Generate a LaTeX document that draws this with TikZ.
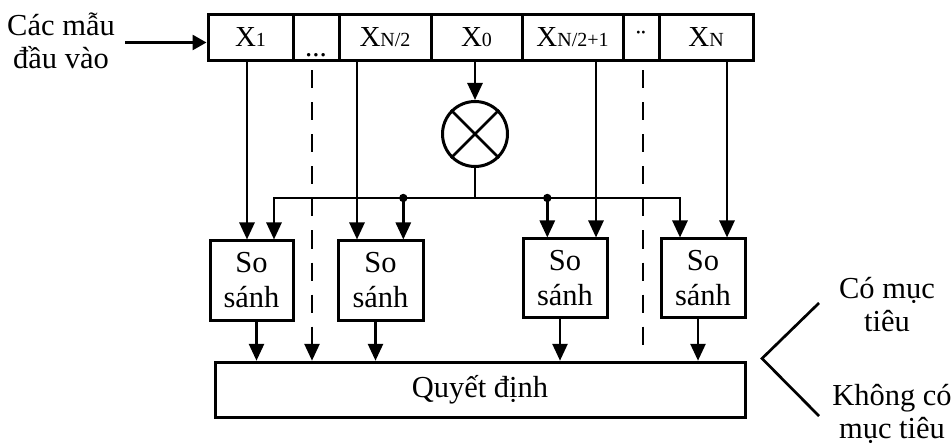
\documentclass[tikz,border=0pt]{standalone}
\usepackage{fontspec}
\setmainfont{Liberation Serif}
\usetikzlibrary{arrows.meta,calc}
\begin{document}
\begin{tikzpicture}[x=1pt,y=-1pt,
  ln/.style={line width=2.7pt},
  tip/.tip={Triangle[length=17pt,width=15pt]},
  arr/.style={ln,-tip},
  dsh/.style={ln,dash pattern=on 18pt off 14pt,dash phase=24pt},
  cell/.style={draw,line width=3pt,minimum height=46pt,inner sep=0pt,text height=18pt,text depth=0pt,font=\fontsize{29}{29}\selectfont},
  cmp/.style={draw,line width=3pt,inner sep=0pt,align=center,font=\fontsize{30.5}{35}\selectfont},
  txt/.style={align=center,inner sep=0pt,font=\fontsize{30.5}{33}\selectfont}]
\useasboundingbox (0,0) rectangle (952,446);
\newcommand{\sbs}[1]{{\fontsize{20}{20}\selectfont #1}}
% top register
\node[cell,minimum width=85pt]  (x1)  at (250.5,38) {X\sbs{1}};
\node[cell,minimum width=46pt]  (dt)  at (316,38)   {\smash{\raisebox{-10pt}{...}}};
\node[cell,minimum width=92pt]  (xh)  at (385,38)   {X\sbs{N/2}};
\node[cell,minimum width=91pt]  (x0)  at (476.5,38) {X\sbs{0}};
\node[cell,minimum width=101pt] (xh1) at (572.5,38) {X\sbs{N/2+1}};
\node[cell,minimum width=36pt]  (dd)  at (641,38)   {\smash{\raisebox{-3pt}{¨}}};
\node[cell,minimum width=94pt]  (xn)  at (706,38)   {X\sbs{N}};
% input
\node[txt] (inp) at (61,41) {Các mẫu\\đầu vào};
\coordinate (inA) at (125,42.5);
\draw[ln,-{Triangle[length=14pt,width=15pt]}] (inA) -- (inA -| x1.west);
% multiplier
\node[circle,draw,line width=3pt,minimum size=65pt,inner sep=0pt] (m) at (475,134) {};
\draw[ln] (m.north west) -- (m.south east) (m.north east) -- (m.south west);
\draw[arr] (x0.south -| m.north) -- (m.north);
% comparators
\node[cmp,minimum width=83pt,minimum height=79pt] (c1) at (251.5,280.5) {So\\sánh};
\node[cmp,minimum width=85pt,minimum height=79pt] (c2) at (380.5,280.5) {So\\sánh};
\node[cmp,minimum width=84pt,minimum height=78pt] (c3) at (565,278) {So\\sánh};
\node[cmp,minimum width=84pt,minimum height=78pt] (c4) at (703,278) {So\\sánh};
% decision
\node[draw,line width=3pt,minimum width=530pt,minimum height=55pt,inner sep=0pt,font=\fontsize{30.5}{30}\selectfont] (q) at (480,389.75) {Quyết định};
% bus
\coordinate (bus) at (475,198);
\coordinate (bl) at (274,198);
\coordinate (br) at (680,198);
\coordinate (d1) at (403.3,198);
\coordinate (d2) at (547.3,198);
\draw[ln] (m.south) -- (bus);
\draw[ln,tip-tip] (bl |- c1.north) -- (bl) -- (br) -- (br |- c4.north);
\fill (d1) circle (4.2pt) (d2) circle (4.2pt);
\draw[arr] (d1) -- (d1 |- c2.north);
\draw[arr] (d2) -- (d2 |- c3.north);
% data lines
\draw[arr] (x1.south -| 247,0) -- (c1.north -| 247,0);
\draw[arr] (xh.south -| 357,0) -- (c2.north -| 357,0);
\draw[arr] (xh1.south -| 596,0) -- (c3.north -| 596,0);
\draw[arr] (xn.south -| 727,0) -- (c4.north -| 727,0);
% dashed lines
\draw[dsh] (dt.south -| 312,0) -- (312,345);
\draw[arr] (312,345) -- (q.north -| 312,0);
\coordinate (de) at (643,345);
\draw[dsh] (dd.south -| de) -- (de);
% outputs of comparators
\draw[arr] ([xshift=5pt]c1.south) -- ([xshift=5pt]c1.south |- q.north);
\draw[arr] ([xshift=-5pt]c2.south) -- ([xshift=-5pt]c2.south |- q.north);
\draw[arr] ([xshift=-5pt]c3.south) -- ([xshift=-5pt]c3.south |- q.north);
\draw[arr] ([xshift=-5pt]c4.south) -- ([xshift=-5pt]c4.south |- q.north);
% result
\coordinate (ap) at (762,358.5);
\coordinate (up) at (819,303);
\coordinate (lo) at (819,416);
\draw[ln] (up) -- (ap) -- (lo);
\node[txt] (yes) at (887,305) {Có mục\\tiêu};
\node[txt] (no) at (892,414) {Không có\\mục tiêu};
\end{tikzpicture}
\end{document}
